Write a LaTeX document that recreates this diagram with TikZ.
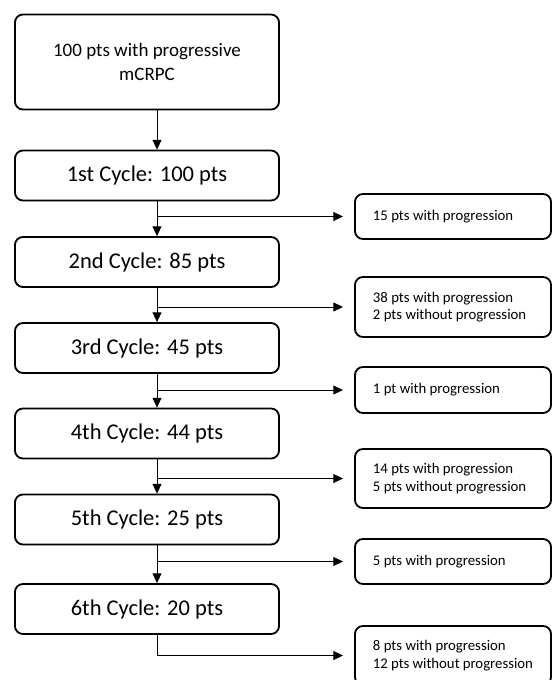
\documentclass[tikz,border=0pt]{standalone}
\usepackage{fontspec}
\setmainfont{Carlito}
\usetikzlibrary{arrows.meta,calc,positioning}

\begin{document}
\begin{tikzpicture}[x=0.025cm, y=-0.025cm,
  cyclebox/.style={draw, line width=1.3pt, rounded corners=0.2cm, minimum width=6.6cm, minimum height=1.25cm, font=\fontsize{16}{19}\selectfont},
  outbox/.style={draw, line width=1.3pt, rounded corners=0.2cm, text width=4.0cm, inner xsep=0.45cm, align=flush left, font=\fontsize{10.5}{12.5}\selectfont},
  flow/.style={-{Triangle[length=2.4mm, width=2.2mm]}, line width=0.6pt}]
  % canvas measured in slide pixels, y runs downwards
  \useasboundingbox (0,0) rectangle (552,680);
  \clip (0,0) rectangle (552,680);
  \def\gap{0.275cm}

  % the arrows run a little right of the box centres
  \coordinate (sp) at (157,0);

  % start box
  \node[cyclebox, minimum height=2.375cm, align=center, font=\fontsize{13.5}{16.8}\selectfont] (start) at (147,62) {100 pts with progressive\\mCRPC};

  % cycle boxes
  \foreach \i/\yy/\n in {1/175.5/1st Cycle: 100 pts, 2/262/2nd Cycle: 85 pts, 3/348/3rd Cycle: 45 pts,
                         4/433.5/4th Cycle: 44 pts, 5/519.5/5th Cycle: 25 pts, 6/609/6th Cycle: 20 pts}
    \node[cyclebox] (c\i) at (147,\yy) {\n};

  % outcome boxes on the right
  \foreach \i/\yy/\h/\t in {1/216.5/1.125cm/{15 pts with progression},
                            2/307/1.5cm/{38 pts with progression\\2 pts without progression},
                            3/390/1.15cm/{1 pt with progression},
                            4/478.5/1.475cm/{14 pts with progression\\5 pts without progression},
                            5/561.5/1.125cm/{5 pts with progression},
                            6/655.5/1.475cm/{8 pts with progression\\12 pts without progression}}
    \node[outbox, minimum height=\h] (r\i) at (453,\yy) {\t};

  % down the cycles
  \draw[flow] (sp |- start.south) -- (sp |- c1.north);
  \foreach \i/\j in {1/2,2/3,3/4,4/5,5/6}
    \draw[flow] (sp |- c\i.south) -- (sp |- c\j.north);

  % branches to the outcomes
  \foreach \i in {1,...,5}
    \draw[flow, shorten >=\gap] (sp |- r\i.west) -- (r\i.west);
  \draw[flow, shorten >=\gap] (sp |- c6.south) |- (r6.west);
\end{tikzpicture}
\end{document}
